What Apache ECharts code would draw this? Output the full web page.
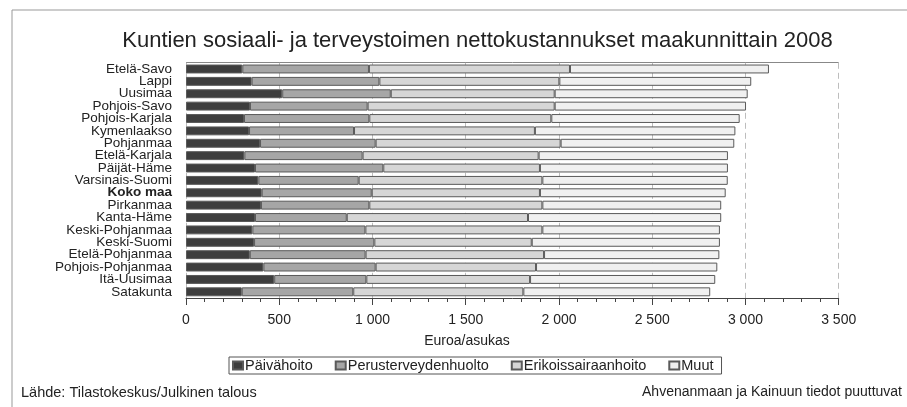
<!DOCTYPE html>
<html><head><meta charset="utf-8">
<script src="https://cdn.jsdelivr.net/npm/echarts@6/dist/echarts.min.js"></script>
<style>html,body{margin:0;padding:0;background:#fff}#c{width:907px;height:407px}</style>
</head><body><div id="c"></div>
<script>
const categories = ["Etelä-Savo","Lappi","Uusimaa","Pohjois-Savo","Pohjois-Karjala","Kymenlaakso","Pohjanmaa","Etelä-Karjala","Päijät-Häme","Varsinais-Suomi","Koko maa","Pirkanmaa","Kanta-Häme","Keski-Pohjanmaa","Keski-Suomi","Etelä-Pohjanmaa","Pohjois-Pohjanmaa","Itä-Uusimaa","Satakunta"];
const paivahoito = [302,352,516,343,311,338,397,313,370,388,406,402,370,356,365,342,415,473,299];
const perusterveydenhuolto = [679,685,582,631,672,563,620,634,688,538,590,581,492,606,645,621,602,494,598];
const erikoissairaanhoito = [1078,965,879,1003,976,970,992,944,840,985,902,928,972,949,844,957,860,878,912];
const muut = [1067,1029,1035,1026,1010,1075,931,1015,1008,994,996,959,1036,952,1009,940,972,993,1002];
const seriesNames = ["Päivähoito","Perusterveydenhuolto","Erikoissairaanhoito","Muut"];
const xTicks = [0,500,1000,1500,2000,2500,3000,3500];
const titleText = "Kuntien sosiaali- ja terveystoimen nettokustannukset maakunnittain 2008";
const axisName = "Euroa/asukas";
const sourceText = "Lähde: Tilastokeskus/Julkinen talous";
const noteText = "Ahvenanmaan ja Kainuun tiedot puuttuvat";

const colors = ['#3e3e3e','#a6a6a6','#d6d6d6','#f0f0f0'];
const FONT = 'Liberation Sans';
const chart = echarts.init(document.getElementById('c'), null, {renderer:'canvas'});
const seriesData = [paivahoito, perusterveydenhuolto, erikoissairaanhoito, muut];
chart.setOption({
  animation:false,
  textStyle:{fontFamily:FONT},
  title:{text:titleText,left:472.5,top:25,textAlign:'center',textStyle:{fontFamily:FONT,fontSize:22,fontWeight:'normal',color:'#222'}},
  grid:{left:186,right:68.3,top:62.8,height:235.2,containLabel:false},
  legend:{data:seriesNames,left:229,top:357,itemWidth:10,itemHeight:8,itemGap:22,
    borderColor:'#555',borderWidth:1,padding:[1,8,1,3],icon:'rect',
    textStyle:{fontFamily:FONT,fontSize:14.5,color:'#222',padding:[0,0,0,-3]}},
  xAxis:{type:'value',min:0,max:3500,interval:500,
    axisLine:{show:true,lineStyle:{color:'#444',width:1}},
    axisTick:{show:true,length:7,lineStyle:{color:'#444'}},
    minorTick:{show:true,splitNumber:5,length:4,lineStyle:{color:'#444'}},
    splitLine:{show:true,lineStyle:{color:'#bdbdbd',type:[6,4],width:1}},
    axisLabel:{fontFamily:FONT,fontSize:14,color:'#222',margin:15,
      formatter:v=>xTicks.includes(v)?String(v).replace(/\B(?=(\d{3})+(?!\d))/g,' '):''}
  },
  yAxis:{type:'category',data:categories,inverse:true,
    axisLine:{show:false},axisTick:{show:false},
    axisLabel:{interval:0,align:'right',fontFamily:FONT,fontSize:13.5,lineHeight:12,color:'#222',margin:14,
      formatter:v=>v==='Koko maa'?'{b|'+v+'}':v,
      rich:{b:{fontWeight:'bold',fontFamily:FONT,fontSize:13.5,lineHeight:12,color:'#222'}}}
  },
  series:seriesNames.map((n,i)=>({
    name:n,type:'bar',stack:'t',data:seriesData[i],barCategoryGap:'28%',
    itemStyle:{color:colors[i],borderColor:'#5a5a5a',borderWidth:1},
    emphasis:{disabled:true}
  })),
  graphic:[
    {type:'rect',shape:{x:12,y:10,width:1000,height:600},style:{fill:'none',stroke:'#999',lineWidth:1},silent:true},
    {type:'line',shape:{x1:186,y1:62.5,x2:838.7,y2:62.5},style:{stroke:'#888',lineWidth:1}},
    {type:'text',x:467,y:334,style:{text:axisName,font:'14px "Liberation Sans"',fill:'#222',textAlign:'center'}},
    {type:'text',x:21,y:385,style:{text:sourceText,font:'14.5px "Liberation Sans"',fill:'#222'}},
    {type:'text',x:902,y:385,style:{text:noteText,font:'14px "Liberation Sans"',fill:'#222',textAlign:'right'}}
  ]
});
</script></body></html>
